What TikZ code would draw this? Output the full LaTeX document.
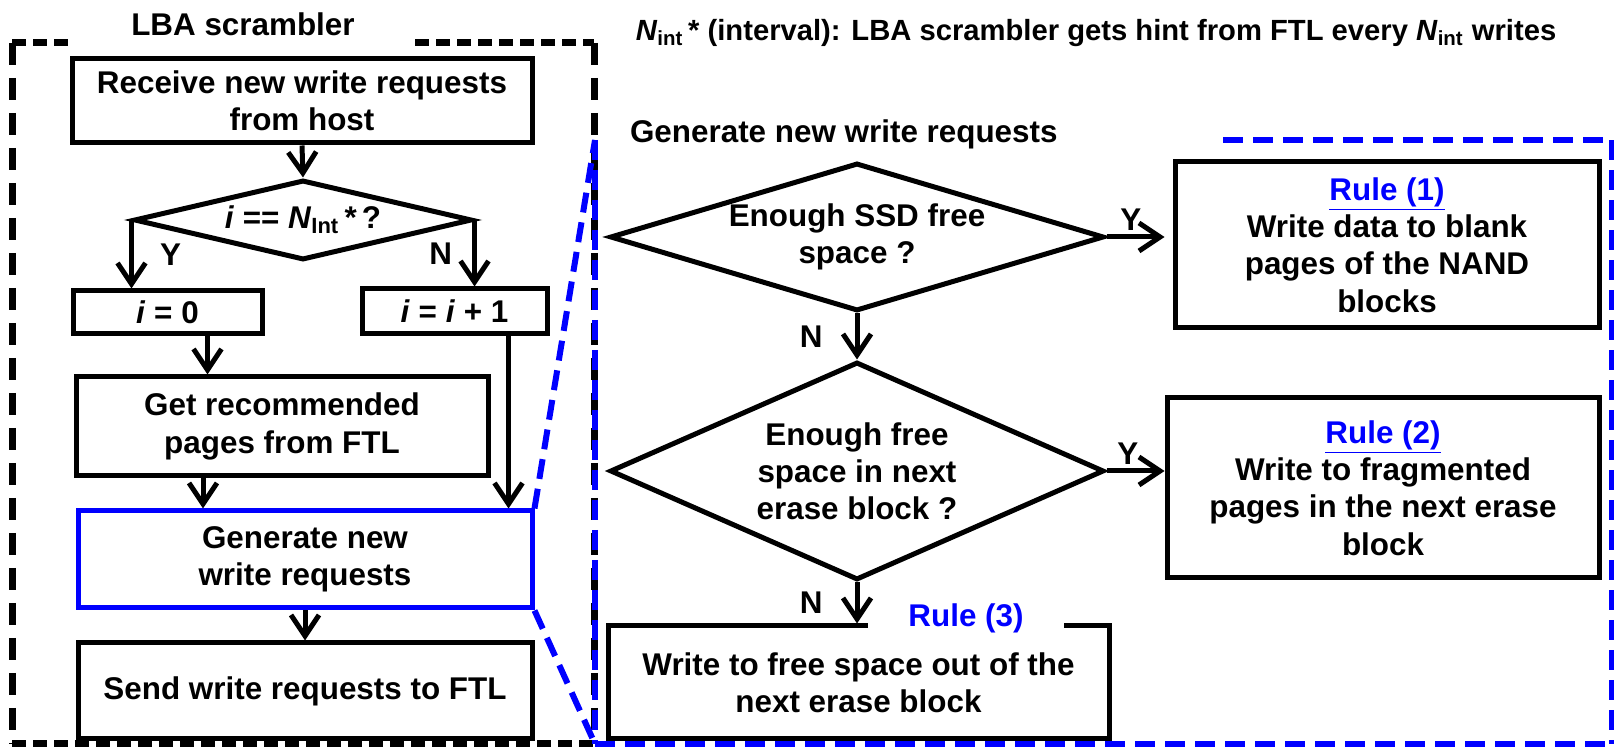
\documentclass[tikz,border=0pt]{standalone}
\usepackage{fontspec}
\setmainfont{Liberation Sans}
\usetikzlibrary{shapes.geometric,arrows.meta}

\begin{document}
\begin{tikzpicture}[x=0.5pt,y=-0.5pt,
    font=\bfseries\fontsize{15.7}{18.6}\selectfont,
    blk/.style={draw, line width=2.5pt, align=center, inner sep=0pt},
    decide/.style={draw, diamond, line width=2.5pt, inner sep=0pt},
    arr/.style={line width=2.5pt, -{Straight Barb[length=10.5pt,width=14pt]}},
    lbl/.style={inner sep=0pt},
    blackh/.style={line width=3.5pt, dash pattern=on 7pt off 3.5pt},
    blackv/.style={line width=3.5pt, dash pattern=on 11pt off 6.5pt},
    bluedash/.style={draw=ruleblue, line width=3pt, dash pattern=on 10pt off 5pt}]
    \definecolor{ruleblue}{RGB}{0,0,255}
    \useasboundingbox (0,0) rectangle (1614,748);
    %\draw[help lines, step=50] (0,0) grid (1614,748);

    % LBA scrambler
    \node (scrtitle) at (243,24) {LBA scrambler};
    \node[blk, minimum width=230pt, minimum height=42pt] (recv) at (302,101)
        {Receive new write requests\\from host};
    \node[decide, minimum width=169pt, minimum height=40pt] (d0) at (303,220) {};
    \node (d0txt) at (d0) {\textit{i} == \textit{N}\textsubscript{Int}\,*\,?};
    \node[blk, minimum width=94.5pt, minimum height=21.5pt] (iz) at (167.5,312.5)
        {\textit{i} = 0};
    \node[blk, minimum width=92.5pt, minimum height=22.5pt] (ii) at (454.5,311.5)
        {\textit{i} = \textit{i} + 1};
    \node[blk, minimum width=206pt, minimum height=49.5pt] (get) at (282,426.5)
        {Get recommended\\pages from FTL};
    \node[blk, draw=ruleblue, minimum width=227pt, minimum height=48.5pt] (gen) at (305,559.5)
        {Generate new\\write requests};
    \node[blk, minimum width=227pt, minimum height=48pt] (send) at (305,691)
        {Send write requests to FTL};

    \draw[arr] (recv.south) -- (d0.north);
    \draw[arr] (d0.west) -- node[lbl, right=13pt] {Y} (d0.west |- iz.north);
    \draw[arr] (d0.east) -- node[lbl, left=10pt] {N} (d0.east |- ii.north);
    \draw[arr] ([xshift=20pt]iz.south) -- ([xshift=20pt]iz.south |- get.north);
    \draw[arr] ([xshift=-39.5pt]get.south) -- ([xshift=-39.5pt]get.south |- gen.north);
    \draw[arr] ([xshift=27pt]ii.south) -- ([xshift=27pt]ii.south |- gen.north);
    \draw[arr] (gen.south) -- (send.north);

    \draw[blackh] (12,43) -- (70,43);
    \draw[blackh] (415,43) -- (594,43);
    \draw[blackv] (12,43) -- (12,744);
    \draw[blackv] (594,43) -- (594,744);
    \draw[blackh] (12,744) -- (594,744);

    % note
    \node (note) at (1096,33) {\fontsize{14.6}{17}\selectfont\textit{N}\textsubscript{int}\,* (interval): LBA scrambler gets hint from FTL every \textit{N}\textsubscript{int} writes};

    % generate new write requests
    \node[anchor=west] (gentitle) at (623,134) {Generate new write requests};
    \node[decide, minimum width=247pt, minimum height=74pt] (q1) at (857,237) {};
    \node (q1txt) at (q1) [align=center] {Enough SSD free\\space ?};
    \node[decide, minimum width=247pt, minimum height=109pt] (q2) at (857,471) {};
    \node (q2txt) at (q2) [align=center] {Enough free\\space in next\\erase block ?};
    \node[blk, minimum width=212pt, minimum height=83pt] (r1) at (1387,245)
        {\textcolor{ruleblue}{\underline{Rule (1)}}\\Write data to blank\\pages of the NAND\\blocks};
    \node[blk, minimum width=216pt, minimum height=90pt] (r2) at (1383,488)
        {\textcolor{ruleblue}{\underline{Rule (2)}}\\Write to fragmented\\pages in the next erase\\block};
    \node[blk, minimum width=250.5pt, minimum height=56.5pt] (r3) at (858.5,682.5)
        {Write to free space out of the\\next erase block};
    \node[fill=white, text=ruleblue, inner xsep=20pt, inner ysep=2pt] (r3tag)
        at ([xshift=53.75pt, yshift=2.5pt]r3.north) {Rule (3)};

    \draw[arr, shorten >=4pt] (q1.east) -- node[lbl, pos=0.37, above=2pt] {Y} (q1.east -| r1.west);
    \draw[arr] (q2.east) -- node[lbl, pos=0.37, above=2pt] {Y} (q2.east -| r2.west);
    \draw[arr] (q1.south) -- node[lbl, left=16pt] {N} (q2.north);
    \draw[arr] (q2.south) -- node[lbl, left=16pt] {N} (q2.south |- r3.north);

    \coordinate (bnw) at (595,140);
    \coordinate (bsw) at (595,744);
    \draw[bluedash] (1223,140) -- (1612,140);
    \draw[bluedash] (1612,140) -- (1612,744);
    \draw[bluedash] (bsw) -- (1612,744);
    \draw[bluedash] (bnw) -- (bsw);
    \draw[bluedash] (gen.north east) -- (bnw);
    \draw[bluedash] (gen.south east) -- (bsw);
\end{tikzpicture}
\end{document}
